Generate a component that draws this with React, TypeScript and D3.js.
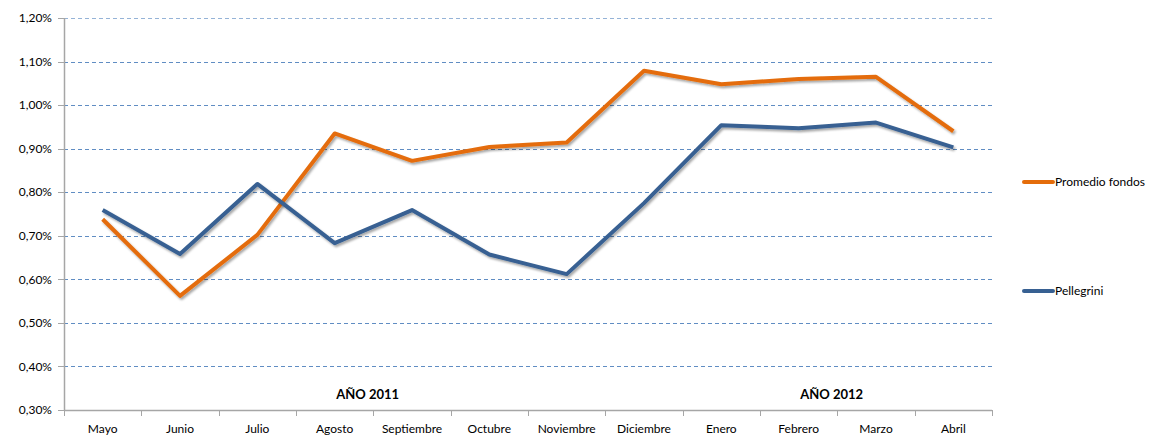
import React from 'react';
import { scaleBand, scaleLinear, line } from 'd3';

// months on the x axis (May 2011 .. April 2012)
const months = ['Mayo', 'Junio', 'Julio', 'Agosto', 'Septiembre', 'Octubre', 'Noviembre', 'Diciembre', 'Enero', 'Febrero', 'Marzo', 'Abril'];
const promedioFondos = [0.738, 0.562, 0.702, 0.935, 0.872, 0.904, 0.914, 1.079, 1.048, 1.06, 1.065, 0.94];
const pellegrini = [0.759, 0.658, 0.819, 0.683, 0.759, 0.657, 0.612, 0.775, 0.954, 0.947, 0.96, 0.903];
const yTicks = [0.3, 0.4, 0.5, 0.6, 0.7, 0.8, 0.9, 1.0, 1.1, 1.2];
const yearLabels = [
  { text: 'AÑO 2011', month: 'Agosto' },
  { text: 'AÑO 2012', month: 'Febrero' },
];

const W = 1161;
const H = 435;
const left = 64, right = 992, top = 18, bottom = 410;
const FONT = 'Lato, "Open Sans", sans-serif';

const fmt = (v: number) => v.toFixed(2).replace('.', ',') + '%';

export default function App() {
  const x = scaleBand<string>().domain(months).range([left, right]).padding(0);
  const y = scaleLinear().domain([0.3, 1.2]).range([bottom, top]);

  const mkLine = line<number>()
    .x((_, i) => (x(months[i]) as number) + x.bandwidth() / 2)
    .y(d => y(d));

  const series = [
    { name: 'Promedio fondos', values: promedioFondos, color: '#E46C0A', ly: 182 },
    { name: 'Pellegrini', values: pellegrini, color: '#376092', ly: 291 },
  ];

  const boundaries = months.map(m => x(m) as number).concat([right]);

  return (
    <svg width={W} height={H} style={{ position: 'absolute', left: 0, top: 0, background: '#fff' }}>
      <defs>
        <filter id="shadow" x="-5%" y="-20%" width="110%" height="140%">
          <feDropShadow dx="1.5" dy="2" stdDeviation="1.2" floodColor="#000" floodOpacity="0.35" />
        </filter>
      </defs>

      {/* gridlines */}
      {yTicks.filter(t => t > 0.3).map(t => (
        <line key={t} x1={left} x2={right} y1={Math.round(y(t)) + 0.5} y2={Math.round(y(t)) + 0.5}
          stroke="#4F81BD" strokeOpacity={t === 1.2 ? 0.6 : 0.9} strokeWidth={1} strokeDasharray="4,3" />
      ))}

      {/* y axis */}
      <line x1={left + 0.5} x2={left + 0.5} y1={top} y2={bottom} stroke="#A6A6A6" strokeWidth={1.5} />
      {yTicks.map(t => (
        <g key={t}>
          <line x1={left - 6} x2={left} y1={Math.round(y(t)) + 0.5} y2={Math.round(y(t)) + 0.5} stroke="#A6A6A6" />
          <text x={52} y={y(t)} dy="0.35em" textAnchor="end" fontFamily={FONT} fontSize={12} fill="#000">{fmt(t)}</text>
        </g>
      ))}

      {/* x axis */}
      <line x1={left} x2={right} y1={bottom + 0.5} y2={bottom + 0.5} stroke="#A6A6A6" strokeWidth={1.5} />
      {boundaries.map((bx, i) => (
        <line key={i} x1={Math.round(bx) + 0.5} x2={Math.round(bx) + 0.5} y1={bottom} y2={bottom + 6} stroke="#A6A6A6" />
      ))}
      {months.map(m => (
        <text key={m} x={(x(m) as number) + x.bandwidth() / 2} y={433} textAnchor="middle"
          fontFamily={FONT} fontSize={12} fill="#000">{m}</text>
      ))}

      {yearLabels.map(l => (
        <text key={l.text} x={(x(l.month) as number) + x.bandwidth() / 2 + 33} y={399} textAnchor="middle"
          fontFamily={FONT} fontSize={13} fontWeight="bold" fill="#000">{l.text}</text>
      ))}

      {/* lines */}
      {series.map(s => (
        <path key={s.name} d={mkLine(s.values) || ''} fill="none" stroke={s.color} strokeWidth={4}
          strokeLinejoin="round" filter="url(#shadow)" />
      ))}

      {/* legend */}
      {series.map(s => (
        <g key={s.name}>
          <line x1={1024} x2={1053} y1={s.ly} y2={s.ly} stroke={s.color} strokeWidth={4} strokeLinecap="round" />
          <text x={1055} y={s.ly} dy="0.35em" fontFamily={FONT} fontSize={12} fill="#000">{s.name}</text>
        </g>
      ))}
    </svg>
  );
}
